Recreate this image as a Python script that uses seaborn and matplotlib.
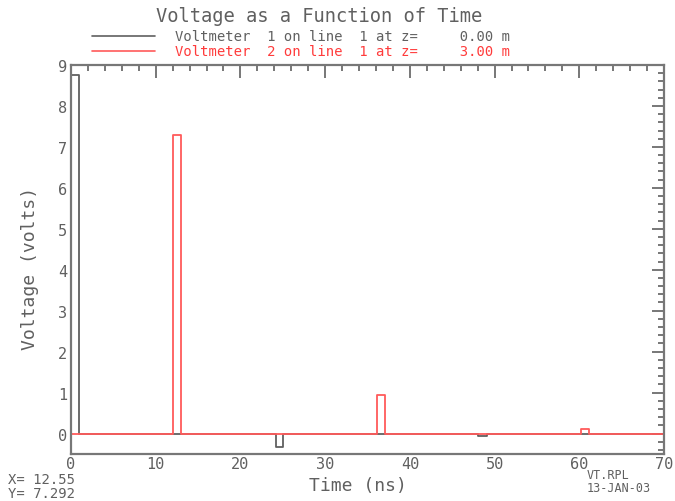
import numpy as np
import pandas as pd
import seaborn as sns
import matplotlib.pyplot as plt
from matplotlib.ticker import MultipleLocator
from matplotlib.lines import Line2D

#%% data (pulse start, end [ns], level [V])
v1_start = [0.0, 24.2, 48.1]
v1_end = [1.0, 25.0, 49.1]
v1_amp = [8.76, -0.34, -0.06]

v2_start = [12.0, 36.1, 60.2]
v2_end = [13.0, 37.1, 61.2]
v2_amp = [7.29, 0.93, 0.12]

t_end = 70.0
meters = ["Voltmeter  1 on line  1 at z=     0.00 m",
          "Voltmeter  2 on line  1 at z=     3.00 m"]
cursor_x = "12.55"
cursor_y = "7.292"

#%% build step waveforms
def steps(starts, ends, amps, tmax):
    t, v = [0.0], [0.0]
    for s, e, a in zip(starts, ends, amps):
        t += [s, s, e, e]
        v += [0.0, a, a, 0.0]
    t.append(tmax)
    v.append(0.0)
    return t, v

t1, y1 = steps(v1_start, v1_end, v1_amp, t_end)
t2, y2 = steps(v2_start, v2_end, v2_amp, t_end)
df = pd.concat([
    pd.DataFrame({"t": t1, "v": y1, "meter": meters[0]}),
    pd.DataFrame({"t": t2, "v": y2, "meter": meters[1]}),
], ignore_index=True)

#%% plot
sns.set_style("white")
plt.rcParams['font.family'] = ['DejaVu Sans Mono', 'DejaVu Sans']
grey = "#606060"
red = "#ff5a5a"

fig = plt.figure(figsize=(6.75, 5.02), dpi=100)
ax = fig.add_axes([71/675, 1 - 455/502, 593/675, 389/502])

sns.lineplot(data=df, x="t", y="v", hue="meter", palette=[grey, red],
             sort=False, estimator=None, legend=False, lw=1.3, ax=ax)

ax.set_xlim(0, 70)
ax.set_ylim(-0.5, 9)
ax.xaxis.set_major_locator(MultipleLocator(10))
ax.xaxis.set_minor_locator(MultipleLocator(2))
ax.yaxis.set_major_locator(MultipleLocator(1))
ax.yaxis.set_minor_locator(MultipleLocator(0.2))
ax.tick_params(which='both', direction='in', top=True, right=True,
               color=grey, labelcolor=grey, labelsize=11, width=1.2)
ax.tick_params(which='major', length=9, pad=3)
ax.tick_params(axis='x', which='major', pad=1.5)
ax.tick_params(which='minor', length=4.5)
for s in ax.spines.values():
    s.set_color("#777777")
    s.set_linewidth(1.6)

ax.set_xlabel("Time (ns)", fontsize=13, color=grey)
ax.xaxis.set_label_coords((358 - 71) / 593, (455 - 486) / 389)
ax.xaxis.label.set_va('center')
ax.set_ylabel("Voltage (volts)", fontsize=13, color=grey)
ax.yaxis.set_label_coords((30 - 71) / 593, (455 - 268) / 389)
ax.yaxis.label.set_va('center')

# title + legend block above the frame
fig.text(319/675, 1 - 17/502, "Voltage as a Function of Time",
         ha='center', va='center', fontsize=13.5, color=grey)
fig.add_artist(Line2D([92/675, 155/675], [1 - 37/502] * 2, color=grey, lw=1.2))
fig.add_artist(Line2D([92/675, 155/675], [1 - 52/502] * 2, color=red, lw=1.2))
fig.text(175/675, 1 - 37/502, meters[0], ha='left', va='center',
         fontsize=10, color=grey)
fig.text(175/675, 1 - 52/502, meters[1], ha='left', va='center',
         fontsize=10, color="#ff3b3b")

# cursor readout and plot stamp
fig.text(8/675, 1 - 501/502, "X= " + cursor_x + "\nY= " + cursor_y,
         ha='left', va='bottom', fontsize=10, linespacing=1.0, color=grey)
fig.text(587/675, 1 - 495/502, "VT.RPL\n13-JAN-03", ha='left', va='bottom',
         fontsize=8.5, linespacing=1.0, color=grey)

fig.savefig("out.png", dpi=100)
